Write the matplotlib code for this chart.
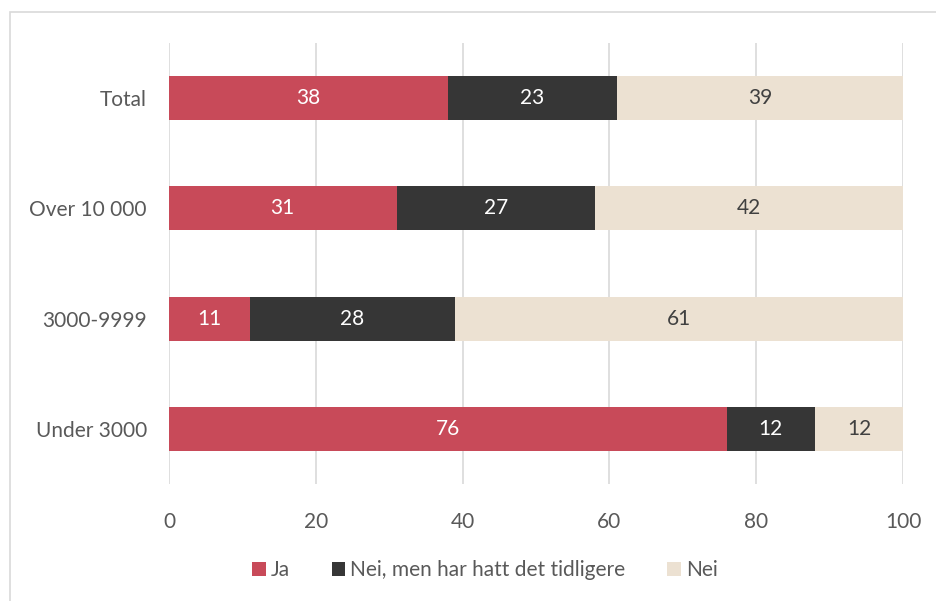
import numpy as np
import matplotlib.pyplot as plt
from matplotlib.patches import Rectangle

categories = ["Under 3000", "3000-9999", "Over 10 000", "Total"]
ja = [76, 11, 31, 38]
nei_tidligere = [12, 28, 27, 23]
nei = [12, 61, 42, 39]
series_names = ["Ja", "Nei, men har hatt det tidligere", "Nei"]
colors = ["#C84A59", "#363636", "#ECE1D2"]
text_colors = ["white", "white", "#404040"]

plt.rcParams['font.family'] = ['Lato', 'DejaVu Sans']
FS = 15

fig = plt.figure(figsize=(9.36, 6.01), dpi=100)
fig.patches.append(Rectangle((10 / 936, -0.01), 1.0, 1 - 12 / 601 + 0.01,
                             transform=fig.transFigure, fill=False,
                             edgecolor="#D9D9D9", linewidth=1.2))
ax = fig.add_axes([169 / 936, 117 / 601, 734 / 936, 441 / 601])

y = np.arange(len(categories))
left = np.zeros(len(categories))
for vals, name, col, tcol in zip([ja, nei_tidligere, nei], series_names, colors, text_colors):
    bars = ax.barh(y, vals, left=left, height=0.4, color=col, label=name, zorder=3)
    for b, v in zip(bars, vals):
        ax.text(b.get_x() + b.get_width() / 2, b.get_y() + b.get_height() / 2, str(v),
                ha="center", va="center", color=tcol, fontsize=FS, zorder=4)
    left += np.array(vals)

ax.set_xlim(0, 100)
ax.set_ylim(-0.5, len(categories) - 0.5)
ax.set_xticks(range(0, 101, 20))
ax.set_yticks(y)
ax.set_yticklabels(categories)
ax.tick_params(axis="both", length=0, labelsize=FS, labelcolor="#595959")
ax.tick_params(axis="x", pad=20)
ax.tick_params(axis="y", pad=16)
ax.grid(axis="x", color="#D9D9D9", linewidth=1.2, zorder=0)
for s in ax.spines.values():
    s.set_visible(False)

leg = fig.legend(loc="center", bbox_to_anchor=(0.518, 1 - 570 / 601), ncol=3, frameon=False,
                 fontsize=FS, handlelength=0.65, handleheight=0.65, handletextpad=0.25,
                 columnspacing=2.0)
for t in leg.get_texts():
    t.set_color("#595959")

fig.savefig("out.png", dpi=100)
